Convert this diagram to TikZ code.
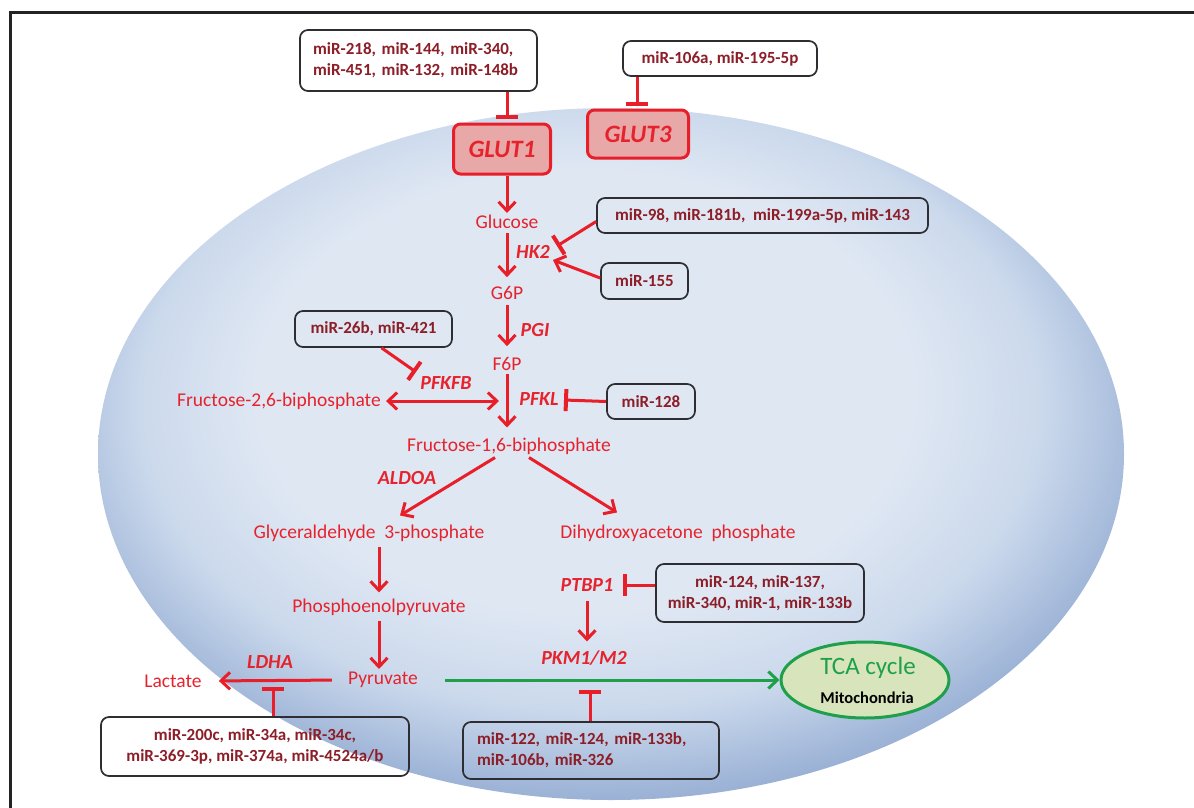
\documentclass[tikz,border=0pt]{standalone}
\usepackage{fontspec}
\setmainfont{Carlito}
\usetikzlibrary{arrows.meta,shapes.geometric,calc}
\definecolor{pathred}{RGB}{230,35,45}
\definecolor{arrred}{RGB}{232,30,40}
\definecolor{mirred}{RGB}{140,30,40}
\definecolor{boxgray}{RGB}{45,45,50}
\definecolor{framecol}{RGB}{35,35,35}
\definecolor{glutfill}{RGB}{232,168,168}
\definecolor{tcafill}{RGB}{215,228,188}
\definecolor{tcagreen}{RGB}{30,160,75}
\definecolor{cellin}{RGB}{223,231,243}
\definecolor{cellmid}{RGB}{203,217,236}
\definecolor{cellrim}{RGB}{160,182,216}
\definecolor{cellout}{RGB}{120,150,198}
\pgfdeclareradialshading{cellshade}{\pgfpoint{-2bp}{7bp}}{color(0bp)=(cellin); color(16bp)=(cellin); color(22bp)=(cellmid); color(27bp)=(cellrim); color(32bp)=(cellout); color(45bp)=(cellout)}
\newcommand\mirfont{\fontsize{17}{21}\selectfont\bfseries}
\newcommand\metfont{\fontsize{19.5}{23}\selectfont}
\newcommand\enzfont{\fontsize{20}{24}\selectfont\bfseries\itshape}
\tikzset{
  mirbox/.style={draw=boxgray, line width=1.7pt, rounded corners=8pt, font=\mirfont, text=mirred, align=center, inner sep=0pt},
  metab/.style={font=\metfont, text=pathred, inner sep=3pt},
  enz/.style={font=\enzfont, text=pathred, inner sep=1pt},
  act/.style={draw=arrred, line width=3pt, -{Straight Barb[length=9pt,width=17pt]}},
  dblact/.style={draw=arrred, line width=3pt, {Straight Barb[length=9pt,width=17pt]}-{Straight Barb[length=9pt,width=17pt]}},
  inh/.style={draw=arrred, line width=3pt, -{Bar[width=22pt,line width=4pt]}},
  gluttr/.style={draw=arrred, fill=glutfill, line width=3pt, rounded corners=7pt, font=\fontsize{25}{28}\selectfont\bfseries\itshape, text=pathred, inner sep=0pt},
  grarrow/.style={draw=tcagreen, line width=3pt, -{Straight Barb[length=9pt,width=17pt]}}
}
\begin{document}
\begin{tikzpicture}[x=1pt,y=-1pt]
\useasboundingbox (0,0) rectangle (1194,808);
\fill[white] (0,0) rectangle (1194,808);
\draw[line width=3pt, draw=framecol] (10,808) -- (10,13) -- (1194,13);
\shade[shading=cellshade] (611,454) ellipse [x radius=513pt, y radius=346pt];

% miRNA boxes
\node[mirbox, minimum width=237, minimum height=61, text width=211, align=left] (b1) at (418.5,60.5) {miR-218, miR-144, miR-340,\\miR-451, miR-132, miR-148b};
\node[mirbox, minimum width=194, minimum height=35] (b2) at (720,58.5) {miR-106a, miR-195-5p};
\node[mirbox, minimum width=331, minimum height=35] (bhk) at (762.5,215.5) {miR-98, miR-181b,\ \ miR-199a-5p, miR-143};
\node[mirbox, minimum width=87, minimum height=36] (b155) at (644.5,281) {miR-155};
\node[mirbox, minimum width=157, minimum height=36] (b26) at (373.5,329) {miR-26b, miR-421};
\node[mirbox, minimum width=88, minimum height=35] (b128) at (651,401.5) {miR-128};
\node[mirbox, minimum width=208, minimum height=58] (b124) at (760,593) {miR-124, miR-137,\\miR-340, miR-1, miR-133b};
\node[mirbox, minimum width=308, minimum height=59] (b200) at (255,746.5) {miR-200c, miR-34a, miR-34c,\\miR-369-3p, miR-374a, miR-4524a/b};
\node[mirbox, minimum width=256, minimum height=57, text width=228, align=left] (b122) at (591,750.5) {miR-122, miR-124, miR-133b,\\miR-106b, miR-326};

% transporters
\node[gluttr, minimum width=97, minimum height=50] (glut1) at (502,149) {GLUT1};
\node[gluttr, minimum width=101, minimum height=48] (glut3) at (638,134) {GLUT3};

% metabolites
\node[metab] (glc) at (507,222) {Glucose};
\node[metab] (g6p) at (507,293) {G6P};
\node[metab] (f6p) at (507,364) {F6P};
\node[metab] (f26) at (279,401) {Fructose-2,6-biphosphate};
\node[metab] (f16) at (509,446) {Fructose-1,6-biphosphate};
\node[metab] (gap) at (369,533) {Glyceraldehyde\ \ 3-phosphate};
\node[metab] (dhap) at (678,533) {Dihydroxyacetone\ \ phosphate};
\node[metab] (pep) at (379,607) {Phosphoenolpyruvate};
\node[metab] (pyr) at (383,680) {Pyruvate};
\node[metab] (lac) at (173,681) {Lactate};

% enzymes
\node[enz] (hk2) at (533,252) {HK2};
\node[enz] (pgi) at (535,330) {PGI};
\node[enz] (pfkfb) at (446,383) {PFKFB};
\node[enz] (pfkl) at (539,399) {PFKL};
\node[enz] (aldoa) at (407,478) {ALDOA};
\node[enz] (ldha) at (270,662) {LDHA};
\node[enz] (ptbp1) at (587,585) {PTBP1};
\node[enz] (pkm) at (584,658) {PKM1/M2};

% mitochondria
\node[ellipse, draw=tcagreen, fill=tcafill, line width=3pt, minimum width=168, minimum height=76, inner sep=0pt] (tca) at (865,680) {};
\node[font=\fontsize{25}{28}\selectfont, text=tcagreen, inner sep=0pt] (tcat) at (868,668) {TCA cycle};
\node[font=\fontsize{16.5}{19}\selectfont\bfseries, text=black, inner sep=0pt] (mito) at (867,698) {Mitochondria};

% inhibition end points
\coordinate (t1) at (507,119);
\coordinate (t3) at (637,106);
\coordinate (hkinh) at (557,246);
\coordinate (hkact) at (553,260);
\coordinate (pfkfbinh) at (416,372);
\coordinate (pfklinh) at (564,400);
\coordinate (ldhainh) at (273,687);
\coordinate (ptbinh) at (623,585);
\coordinate (pkminh) at (590,690);

% connectors
\draw[inh] (b1.south -| t1) -- (t1);
\draw[inh] (b2.south -| t3) -- (t3);
\draw[act, shorten >=-1pt] (glut1.south -| glc) -- (glc.north);
\draw[act, shorten <=1pt, shorten >=6pt] (glc.south) -- (g6p.north);
\draw[act, shorten <=2pt, shorten >=8pt] (g6p.south) -- (f6p.north);
\draw[act, shorten >=7pt] (f6p.south) -- (f16.north -| f6p);
\draw[dblact, shorten <=2pt, shorten >=8pt] (f26.east) -- (f26.east -| f6p);
\draw[inh] ([yshift=-6pt]bhk.west) -- (hkinh);
\draw[act] ([yshift=3pt]b155.west) -- (hkact);
\draw[inh] ([xshift=8pt]b26.south) -- (pfkfbinh);
\draw[inh] (b128.west) -- (pfklinh);
\draw[act] ([xshift=-14pt]f16.south) -- ([xshift=31pt,yshift=6pt]gap.north);
\draw[act] ([xshift=20pt]f16.south) -- ([xshift=-61pt,yshift=9pt]dhap.north);
\draw[act, shorten <=2pt, shorten >=3pt] (gap.south -| pep) -- (pep.north);
\draw[act, shorten <=2pt] (pep.south) -- (pep.south |- pyr.north);
\draw[act, shorten <=13pt, shorten >=14pt] (pyr.west) -- (lac.east);
\draw[inh] (b200.north -| ldhainh) -- (ldhainh);
\draw[grarrow, shorten <=24pt] (pyr.east) -- (tca.west);
\draw[inh] ([yshift=8pt]b124.west) -- (ptbinh);
\draw[act, shorten <=8pt, shorten >=8pt] (ptbp1.south) -- (ptbp1.south |- pkm.north);
\draw[inh] (b122.north -| pkminh) -- (pkminh);
\end{tikzpicture}
\end{document}
